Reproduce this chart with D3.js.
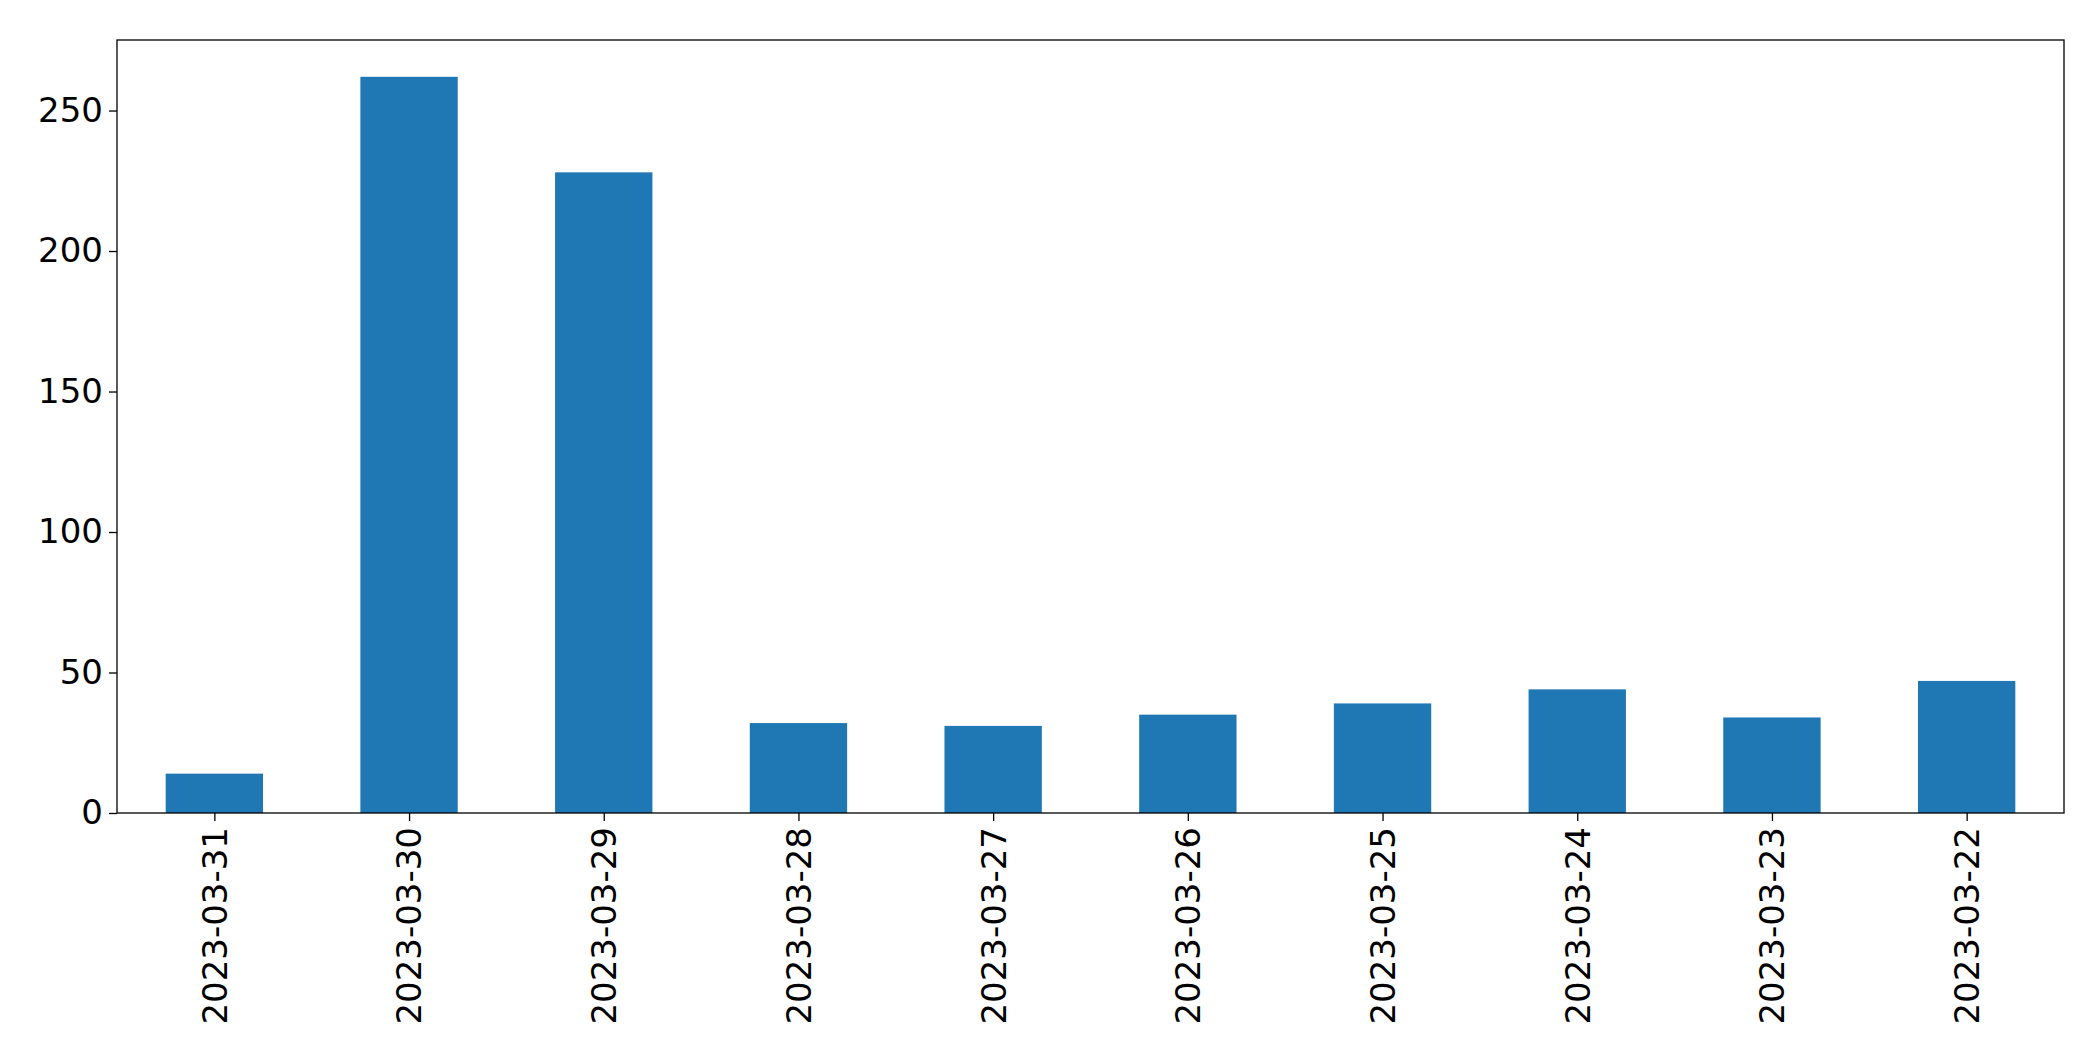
<!DOCTYPE html>
<html>
<head>
<meta charset="utf-8">
<script src="https://cdn.jsdelivr.net/npm/d3@7"></script>
<style>body{margin:0;background:#fff}</style>
</head>
<body>
<svg width="2093" height="1061"></svg>
<script>
var dates = ['2023-03-31', '2023-03-30', '2023-03-29', '2023-03-28', '2023-03-27',
  '2023-03-26', '2023-03-25', '2023-03-24', '2023-03-23', '2023-03-22'];
var counts = [14, 262, 228, 32, 31, 35, 39, 44, 34, 47];
var yTicks = [0, 50, 100, 150, 200, 250];

var m = {left: 117, right: 2093 - 2064, top: 40, bottom: 1061 - 813};
var svg = d3.select('svg');
var w = 2093 - m.left - m.right, h = 1061 - m.top - m.bottom;
var g = svg.append('g').attr('transform', 'translate(' + m.left + ' ' + m.top + ')');

var x = d3.scaleLinear().domain([-0.5, dates.length - 0.5]).range([0, w]);
var y = d3.scaleLinear().domain([0, 262 * 1.05]).range([h, 0]);

g.selectAll('rect.bar').data(counts).enter().append('rect')
  .attr('class', 'bar')
  .attr('x', function (d, i) { return x(i - 0.25); })
  .attr('width', x(0.25) - x(-0.25))
  .attr('y', function (d) { return y(d); })
  .attr('height', function (d) { return h - y(d); })
  .attr('fill', '#1f77b4');

var yAxis = g.append('g').call(d3.axisLeft(y).tickValues(yTicks).tickSize(8).tickPadding(6));
var xAxis = g.append('g').attr('transform', 'translate(0 ' + h + ')')
  .call(d3.axisBottom(x).tickValues(d3.range(dates.length))
    .tickFormat(function (i) { return dates[i]; }).tickSize(8));
xAxis.selectAll('text')
  .attr('transform', 'rotate(-90)')
  .attr('text-anchor', 'end')
  .attr('x', -14).attr('y', 0).attr('dy', '0.35em');

[yAxis, xAxis].forEach(function (a) {
  a.select('.domain').remove();
  a.selectAll('text').attr('font-family', 'DejaVu Sans').attr('font-size', 34).attr('fill', '#000');
  a.selectAll('line').attr('stroke', '#000').attr('stroke-width', 1.3);
});

g.append('rect').attr('width', w).attr('height', h)
  .attr('fill', 'none').attr('stroke', '#000').attr('stroke-width', 1.3);
</script>
</body>
</html>
